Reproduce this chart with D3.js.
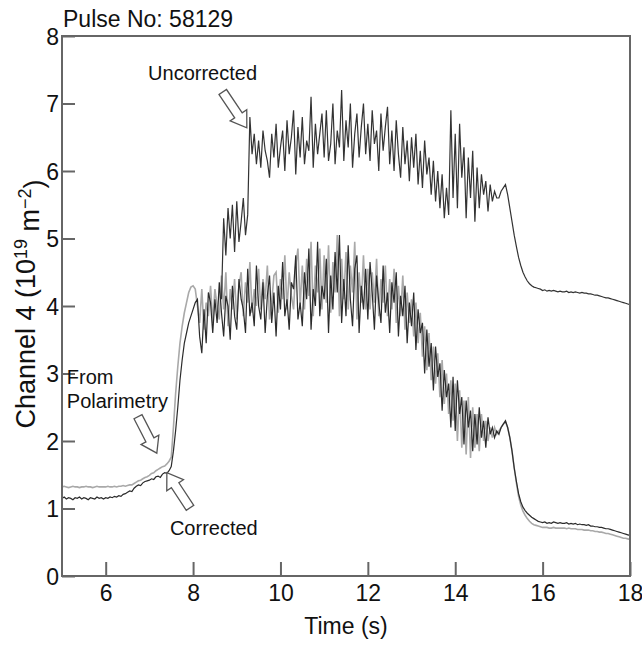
<!DOCTYPE html>
<html>
<head>
<meta charset="utf-8">
<script src="https://cdn.jsdelivr.net/npm/d3@7"></script>
<style>
  body { margin: 0; background: #fff; }
  svg text { font-family: "Liberation Sans", Arial, sans-serif; fill: #111; }
</style>
</head>
<body>
<div id="chart"></div>
<script>
// sampled every 0.05 s starting at 5.0 s (values in 10^19 m^-2)
var t0 = 5, dt = 0.05;

var polarimetry = [
    1.32,1.33,1.32,1.31,1.32,1.33,1.32,1.32,1.31,1.32,
    1.32,1.33,1.32,1.32,1.31,1.32,1.33,1.32,1.32,1.32,
    1.32,1.33,1.32,1.32,1.33,1.32,1.33,1.33,1.34,1.33,
    1.34,1.35,1.35,1.37,1.39,1.41,1.42,1.44,1.46,1.47,
    1.49,1.52,1.53,1.56,1.58,1.60,1.62,1.63,1.66,1.70,
    1.76,2.20,2.70,3.10,3.45,3.70,3.90,4.05,4.20,4.28,
    4.30,4.25,4.00,3.75,4.25,3.65,4.05,3.85,4.30,3.75,
    4.25,4.00,3.80,4.45,3.95,4.50,3.70,4.25,3.95,4.40,
    3.80,4.30,4.50,3.85,4.35,4.05,4.65,3.90,4.25,4.00,
    4.55,3.95,4.40,4.10,4.60,3.80,4.05,4.45,4.50,3.90,
    4.40,4.10,4.75,3.95,4.50,4.15,3.95,4.60,4.85,4.00,
    4.60,3.95,4.70,4.15,4.95,3.85,4.60,4.20,4.85,3.95,
    4.75,4.05,4.90,3.90,4.65,4.20,5.05,3.85,4.70,4.10,
    4.80,3.95,4.60,4.20,4.95,3.80,4.50,4.05,4.75,3.95,
    4.55,3.95,4.50,4.05,4.70,3.85,4.40,4.05,4.60,3.85,
    4.40,3.95,4.55,3.75,4.30,3.85,4.45,3.65,4.20,3.75,
    4.10,3.55,4.05,3.45,3.90,3.25,3.70,3.05,3.60,2.90,
    3.40,2.85,3.30,2.65,3.20,2.55,3.00,2.40,2.90,2.30,
    2.85,2.00,2.75,1.90,2.60,1.80,2.65,1.75,2.50,1.90,
    2.40,1.85,2.40,2.00,2.30,2.00,2.20,2.05,2.20,2.10,
    2.15,2.20,2.25,2.28,2.20,2.05,1.85,1.60,1.38,1.18,
    1.05,0.96,0.90,0.85,0.81,0.78,0.76,0.75,0.74,0.73,
    0.72,0.72,0.72,0.71,0.71,0.72,0.71,0.71,0.71,0.71,
    0.71,0.70,0.71,0.70,0.70,0.70,0.69,0.69,0.69,0.68,
    0.68,0.68,0.67,0.67,0.66,0.66,0.65,0.65,0.64,0.63,
    0.63,0.62,0.61,0.60,0.59,0.58,0.57,0.56,0.56,0.55,
    0.54
];

var corrected = [
    1.15,1.17,1.14,1.16,1.15,1.13,1.16,1.15,1.17,1.14,
    1.16,1.15,1.13,1.16,1.15,1.14,1.17,1.15,1.16,1.14,
    1.16,1.15,1.17,1.16,1.18,1.17,1.19,1.18,1.21,1.22,
    1.24,1.26,1.25,1.30,1.33,1.35,1.34,1.38,1.40,1.41,
    1.42,1.44,1.43,1.47,1.48,1.46,1.51,1.53,1.52,1.56,
    1.62,1.85,2.15,2.50,2.90,3.20,3.45,3.60,3.75,3.85,
    3.95,4.05,4.10,3.55,3.30,3.95,3.45,4.20,4.05,3.60,
    4.10,3.75,4.35,3.90,3.55,4.15,4.00,3.50,4.30,3.85,
    3.65,4.40,4.10,3.95,3.60,4.55,3.85,4.05,3.70,4.60,
    4.00,3.80,4.35,3.60,4.15,4.45,3.75,4.20,3.55,4.30,
    3.95,4.65,3.85,4.10,3.65,4.35,4.25,4.75,3.80,4.05,
    3.70,4.50,4.10,4.85,3.65,4.25,4.00,4.95,3.85,4.30,
    4.10,4.70,3.60,4.45,3.95,4.80,4.20,5.05,3.75,4.40,
    3.85,4.90,4.10,3.70,4.55,4.75,3.60,4.30,3.95,4.55,
    3.80,4.65,4.20,3.65,4.45,4.05,3.75,4.60,3.90,4.20,
    3.60,4.35,4.05,4.50,3.55,4.15,3.85,4.30,3.45,4.05,
    3.70,4.20,3.35,3.95,3.60,3.75,3.00,3.65,3.10,3.45,
    2.75,3.40,2.95,3.15,2.45,3.05,2.65,2.85,2.20,2.95,
    2.15,2.90,2.40,2.65,1.95,2.60,2.20,2.45,1.85,2.40,
    1.95,2.50,2.05,2.30,1.90,2.35,2.10,2.20,2.05,2.15,
    2.10,2.20,2.25,2.30,2.20,2.05,1.85,1.60,1.40,1.22,
    1.10,1.02,0.97,0.93,0.90,0.87,0.85,0.83,0.81,0.80,
    0.79,0.80,0.78,0.79,0.78,0.80,0.79,0.78,0.79,0.78,
    0.78,0.79,0.77,0.78,0.77,0.78,0.76,0.77,0.76,0.76,
    0.75,0.76,0.74,0.74,0.73,0.73,0.72,0.72,0.71,0.70,
    0.70,0.69,0.68,0.67,0.66,0.65,0.64,0.63,0.62,0.61,
    0.60
];

// uncorrected trace differs from the corrected one from 8.65 s on
var uncStart = 8.65;
var uncorrected = [
    4.10,
    5.30,4.75,5.45,5.00,5.50,4.80,
    5.55,4.95,5.25,5.60,5.05,5.35,
    6.80,6.25,6.55,6.10,
    6.45,6.05,6.60,6.30,6.15,5.90,6.55,6.20,6.70,6.05,
    6.35,6.60,6.00,6.75,6.25,6.50,6.90,5.95,6.65,6.20,
    6.80,6.10,6.45,6.30,7.10,6.05,6.70,6.25,6.55,6.85,
    6.20,6.90,6.15,6.40,7.00,6.10,6.60,6.35,7.20,6.15,
    6.75,6.35,7.00,6.05,6.55,6.85,6.20,6.65,7.00,6.25,
    6.70,6.15,6.90,6.40,6.60,6.00,6.85,6.30,6.65,6.95,
    6.10,6.60,6.00,6.75,6.25,5.90,6.65,6.10,6.45,5.85,
    6.50,6.05,6.55,5.80,6.30,5.75,6.45,5.95,6.20,5.65,
    6.15,5.55,6.00,5.45,5.95,5.30,5.75,5.35,6.90,5.60,
    6.55,5.45,6.70,5.90,6.35,5.30,6.20,5.60,6.30,5.25,
    6.05,5.45,5.95,5.65,5.85,5.40,5.80,5.55,5.70,5.60,
    5.60,5.70,5.75,5.80,5.65,5.45,5.25,5.05,4.88,4.72,
    4.60,4.50,4.43,4.37,4.33,4.30,4.28,4.27,4.26,4.25,
    4.23,4.24,4.22,4.23,4.22,4.23,4.22,4.21,4.22,4.21,
    4.21,4.22,4.20,4.21,4.20,4.21,4.20,4.19,4.20,4.19,
    4.19,4.18,4.18,4.17,4.16,4.16,4.15,4.14,4.13,4.12,
    4.12,4.11,4.10,4.09,4.08,4.07,4.06,4.05,4.04,4.03,
    4.02
];

var xTicks = [6, 8, 10, 12, 14, 16, 18];
var yTicks = [0, 1, 2, 3, 4, 5, 6, 7, 8];

// annotation arrows: [tail time, tail value, tip time, tip value]
var arrows = [
    [8.68, 7.17, 9.23, 6.64],
    [6.74, 2.36, 7.17, 1.82],
    [7.93, 1.01, 7.40, 1.53]
];

var width = 642;
var height = 647;
var margin = { top: 36, right: 12, bottom: 71, left: 62 };
var innerW = width - margin.left - margin.right;
var innerH = height - margin.top - margin.bottom;

var svg = d3.select("#chart")
    .append("svg")
    .attr("width", width)
    .attr("height", height);

var g = svg.append("g")
    .attr("transform", "translate(" + margin.left + "," + margin.top + ")");

var x = d3.scaleLinear().domain([5, 18]).range([0, innerW]);
var y = d3.scaleLinear().domain([0, 8]).range([innerH, 0]);

function toPoints(values, start) {
    return values.map(function(v, i) {
        return [start + i * dt, v];
    });
}

var line = d3.line()
    .x(function(d) { return x(d[0]); })
    .y(function(d) { return y(d[1]); });

g.append("defs").append("clipPath")
    .attr("id", "clip")
    .append("rect")
    .attr("width", innerW)
    .attr("height", innerH);

var traces = g.append("g").attr("clip-path", "url(#clip)");

traces.append("path")
    .datum(toPoints(polarimetry, t0))
    .attr("d", line)
    .attr("fill", "none")
    .attr("stroke", "#a9a9a9")
    .attr("stroke-width", 1.6);

traces.append("path")
    .datum(toPoints(corrected, t0))
    .attr("d", line)
    .attr("fill", "none")
    .attr("stroke", "#2b2b2b")
    .attr("stroke-width", 1.2);

traces.append("path")
    .datum(toPoints(uncorrected, uncStart))
    .attr("d", line)
    .attr("fill", "none")
    .attr("stroke", "#333")
    .attr("stroke-width", 1.2);

// axes, ticks point inwards
var xAxis = g.append("g")
    .attr("transform", "translate(0," + innerH + ")")
    .call(d3.axisBottom(x).tickValues(xTicks).tickSize(-14).tickSizeOuter(0).tickPadding(9));

var yAxis = g.append("g")
    .call(d3.axisLeft(y).tickValues(yTicks).tickSize(-13).tickSizeOuter(0).tickPadding(3));

[xAxis, yAxis].forEach(function(a) {
    a.select(".domain").remove();
    a.selectAll(".tick line").attr("stroke", "#666").attr("stroke-width", 2);
    a.selectAll(".tick text")
        .attr("fill", "#111")
        .style("font-size", "23px")
        .style("font-family", "'Liberation Sans', Arial, sans-serif");
});
yAxis.selectAll(".tick text").attr("dy", "0.36em");

g.append("rect")
    .attr("width", innerW)
    .attr("height", innerH)
    .attr("fill", "none")
    .attr("stroke", "#666")
    .attr("stroke-width", 2);

// titles
svg.append("text")
    .attr("x", 63)
    .attr("y", 27)
    .style("font-size", "23px")
    .text("Pulse No: 58129");

svg.append("text")
    .attr("x", margin.left + innerW / 2)
    .attr("y", 634)
    .attr("text-anchor", "middle")
    .style("font-size", "23px")
    .text("Time (s)");

var yTitle = svg.append("text")
    .attr("transform", "translate(35," + (margin.top + innerH / 2 - 2) + ") rotate(-90)")
    .attr("text-anchor", "middle")
    .style("font-size", "27px");
yTitle.append("tspan").text("Channel 4 (10");
yTitle.append("tspan").attr("dy", "-0.45em").style("font-size", "18px").text("19");
yTitle.append("tspan").attr("dy", "0.45em").text(" m");
yTitle.append("tspan").attr("dy", "-0.45em").style("font-size", "18px").text("\u22122");
yTitle.append("tspan").attr("dy", "0.45em").text(")");

// annotations
var notes = g.append("g").style("font-size", "20px");
notes.append("text").attr("x", x(6.97)).attr("y", y(7.35)).text("Uncorrected");
notes.append("text").attr("x", x(5.11)).attr("y", y(2.84)).text("From");
notes.append("text").attr("x", x(5.11)).attr("y", y(2.49)).text("Polarimetry");
notes.append("text").attr("x", x(7.47)).attr("y", y(0.61)).text("Corrected");

function arrowPath(a) {
    var x1 = x(a[0]), y1 = y(a[1]), x2 = x(a[2]), y2 = y(a[3]);
    var len = Math.sqrt((x2 - x1) * (x2 - x1) + (y2 - y1) * (y2 - y1));
    var ux = (x2 - x1) / len, uy = (y2 - y1) / len;
    var nx = -uy, ny = ux;
    var sw = 4.5, hw = 10, hl = 15;
    var bx = x2 - ux * hl, by = y2 - uy * hl;
    var pts = [
        [x1 + nx * sw, y1 + ny * sw],
        [bx + nx * sw, by + ny * sw],
        [bx + nx * hw, by + ny * hw],
        [x2, y2],
        [bx - nx * hw, by - ny * hw],
        [bx - nx * sw, by - ny * sw],
        [x1 - nx * sw, y1 - ny * sw]
    ];
    return "M" + pts.join("L") + "Z";
}

g.selectAll("path.arrow")
    .data(arrows)
    .enter()
    .append("path")
    .attr("class", "arrow")
    .attr("d", arrowPath)
    .attr("fill", "#fff")
    .attr("stroke", "#555")
    .attr("stroke-width", 1.3);
</script>
</body>
</html>
